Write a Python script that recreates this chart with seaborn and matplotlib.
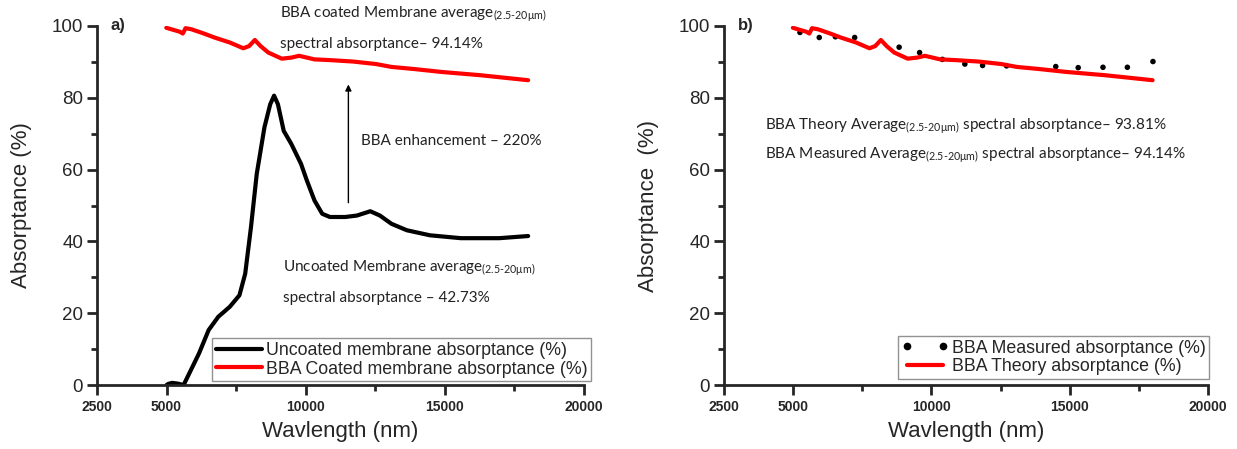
import numpy as np
import pandas as pd
import seaborn as sns
import matplotlib.pyplot as plt
from matplotlib.lines import Line2D

# uncoated membrane (black, panel a)
uncoated_wl = [5000, 5060, 5200, 5400, 5613, 6166, 6512, 6858, 7273, 7619, 7826, 8034, 8241,
               8518, 8725, 8864, 9002, 9210, 9486, 9832, 10040, 10316, 10593, 10870,
               11423, 11838, 12322, 12668, 13083, 13636, 14466, 15573, 16956, 17994]
uncoated_abs = [0.0, 0.3, 0.6, 0.4, 0.0, 8.8, 15.3, 19.0, 21.8, 25.0, 31.0, 44.0, 58.8,
                71.8, 78.2, 80.6, 78.2, 70.8, 67.1, 61.6, 57.0, 51.4, 47.7, 46.8,
                46.8, 47.2, 48.4, 47.2, 44.9, 43.1, 41.7, 40.9, 40.9, 41.5]

# BBA coated / theory (red)
coated_wl = [4990, 5474, 5585, 5682, 5889, 6304, 6719, 7273, 7757, 7965, 8172, 8380, 8656,
             9140, 9486, 9763, 10040, 10316, 10870, 11700, 12530, 13083, 13913, 14881,
             16265, 17994]
coated_abs = [99.5, 98.4, 97.9, 99.4, 99.1, 98.0, 96.8, 95.4, 93.8, 94.4, 96.1, 94.4, 92.6,
              90.9, 91.2, 91.7, 91.2, 90.7, 90.5, 90.1, 89.4, 88.6, 88.0, 87.2,
              86.3, 84.9]

# BBA measured (dots, panel b)
measured_wl = [5246, 5943, 6526, 7224, 8831, 9571, 10397, 11207, 11848, 12715,
               14494, 15305, 16201, 17083, 18008]
measured_abs = [98.2, 96.8, 97.0, 96.8, 94.1, 92.6, 90.7, 89.4, 89.0, 88.9,
                88.7, 88.4, 88.5, 88.5, 90.1]

x_major = [2500, 5000, 10000, 15000, 20000]
x_minor = [7500, 12500, 17500]
y_major = [0, 20, 40, 60, 80, 100]
y_minor = [10, 30, 50, 70, 90]

sns.set_style("ticks")
plt.rcParams['font.family'] = ['Liberation Sans', 'DejaVu Sans']
plt.rcParams['mathtext.fontset'] = 'custom'
plt.rcParams['mathtext.rm'] = 'Lato'

note_font = dict(family=['Lato', 'DejaVu Sans'], fontsize=11, color='#222222')
sub = r"$_{\mathrm{(2.5\text{-}20\mu m)}}$"

fig = plt.figure(figsize=(12.37, 4.49), dpi=100)
ax1 = fig.add_axes([0.0784, 0.1425, 0.3937, 0.7996])
ax2 = fig.add_axes([0.5853, 0.1425, 0.3913, 0.7996])

df_unc = pd.DataFrame({"wl": uncoated_wl, "a": uncoated_abs})
df_coat = pd.DataFrame({"wl": coated_wl, "a": coated_abs})
df_meas = pd.DataFrame({"wl": measured_wl, "a": measured_abs})

sns.lineplot(data=df_unc, x="wl", y="a", ax=ax1, color="black", lw=3,
             label="Uncoated membrane absorptance (%)")
sns.lineplot(data=df_coat, x="wl", y="a", ax=ax1, color="#ff0000", lw=3,
             label="BBA Coated membrane absorptance (%)")

sns.scatterplot(data=df_meas, x="wl", y="a", ax=ax2, color="black", s=16,
                edgecolor="none", legend=False)
sns.lineplot(data=df_coat, x="wl", y="a", ax=ax2, color="#ff0000", lw=3, legend=False)

for ax, ylab in [(ax1, "Absorptance (%)"), (ax2, "Absorptance  (%)")]:
    ax.set_xlim(2500, 20000)
    ax.set_ylim(0, 100)
    ax.set_xticks(x_major)
    ax.set_xticks(x_minor, minor=True)
    ax.set_yticks(y_major)
    ax.set_yticks(y_minor, minor=True)
    ax.set_xticklabels([str(v) for v in x_major], fontweight="bold", fontsize=10)
    ax.tick_params(axis="y", labelsize=13.5)
    ax.tick_params(which="major", length=7, width=2, direction="out", pad=3)
    ax.tick_params(which="minor", length=4, width=2, direction="out")
    ax.tick_params(axis="x", pad=4)
    for s in ["top", "right"]:
        ax.spines[s].set_visible(False)
    for s in ["left", "bottom"]:
        ax.spines[s].set_linewidth(2)
    ax.set_xlabel("Wavlength (nm)", fontsize=16, labelpad=5)
    ax.set_ylabel(ylab, fontsize=16, labelpad=14)

# panel a annotations
ax1.text(3000, 100, "a)", fontsize=12, fontweight="bold", va="center")
ax1.text(9070, 103.2, "BBA coated Membrane average" + sub, va="center", **note_font)
ax1.text(9070, 94.9, "spectral absorptance– 94.14%", va="center", **note_font)
ax1.text(11975, 67.9, "BBA enhancement – 220%", va="center", **note_font)
ax1.text(9180, 32.6, "Uncoated Membrane average" + sub, va="center", **note_font)
ax1.text(9180, 24.1, "spectral absorptance – 42.73%", va="center", **note_font)
ax1.annotate("", xy=(11534, 84.5), xytext=(11534, 50),
             arrowprops=dict(arrowstyle="-|>", color="black", lw=1, mutation_scale=9))

leg1 = ax1.legend(loc="lower right", bbox_to_anchor=(1.014, 0.011), fontsize=12.8,
                  frameon=True, fancybox=False, edgecolor="#777777", handlelength=2.6,
                  handletextpad=0.2, labelspacing=0.1, borderpad=0.2, borderaxespad=0)
leg1.get_frame().set_linewidth(1)

# panel b annotations
ax2.text(3000, 100, "b)", fontsize=12, fontweight="bold", va="center")
ax2.text(3966, 72.1, "BBA Theory Average" + sub + " spectral absorptance– 93.81%",
         va="center", **note_font)
ax2.text(3994, 64.1, "BBA Measured Average" + sub + " spectral absorptance– 94.14%",
         va="center", **note_font)

handles = [Line2D([], [], color="black", marker="o", markersize=4.5, linestyle="none"),
           Line2D([], [], color="#ff0000", lw=3)]
leg2 = ax2.legend(handles, ["BBA Measured absorptance (%)", "BBA Theory absorptance (%)"],
                  loc="lower right", bbox_to_anchor=(1.002, 0.017), fontsize=12.8,
                  frameon=True, fancybox=False, edgecolor="#777777", handlelength=2.6,
                  handletextpad=0.2, labelspacing=0.1, borderpad=0.2, borderaxespad=0,
                  numpoints=2)
leg2.get_frame().set_linewidth(1)

fig.savefig("out.png", dpi=100)
